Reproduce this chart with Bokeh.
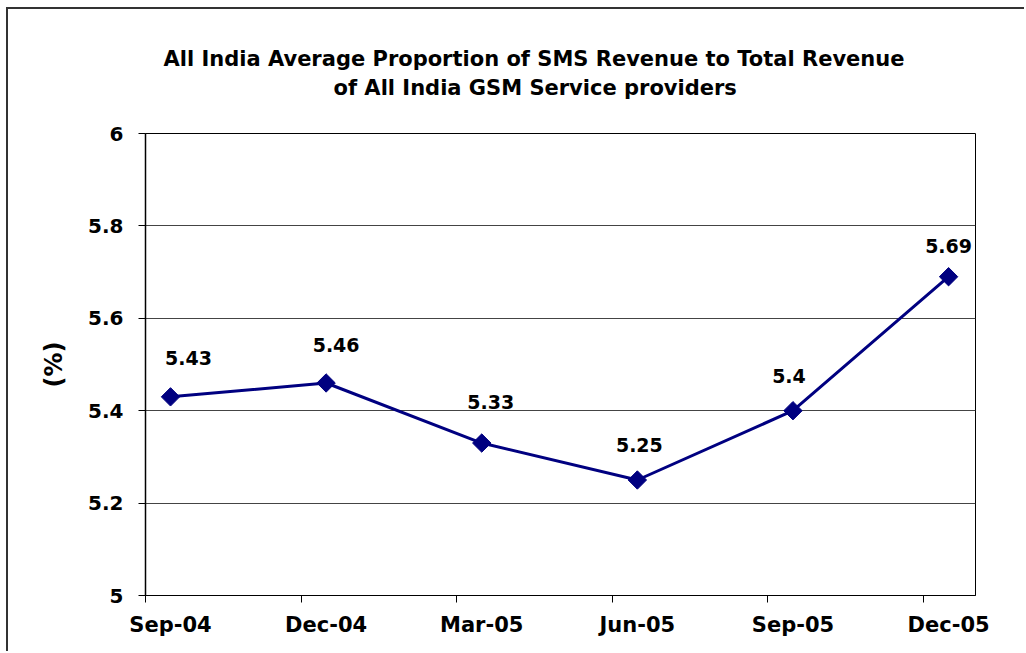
import math
from bokeh.plotting import figure
from bokeh.models import (FixedTicker, LabelSet, Title,
                          ColumnDataSource, CustomJSTickFormatter)
from bokeh.core.properties import value
from bokeh.embed import file_html
from bokeh.resources import INLINE

# ---- data ----
categories = ["Sep-04", "Dec-04", "Mar-05", "Jun-05", "Sep-05", "Dec-05"]
values = [5.43, 5.46, 5.33, 5.25, 5.4, 5.69]
value_labels = ["5.43", "5.46", "5.33", "5.25", "5.4", "5.69"]
y_ticks = [5.0, 5.2, 5.4, 5.6, 5.8, 6.0]
title_lines = ["All India Average Proportion of SMS Revenue to Total Revenue",
               "of All India GSM Service providers"]
y_title = "(%)"

# label nudges in pixels (style only, as placed in the original)
label_dx = [18, 10, 9, 2, -4, 0]
label_dy = [32, 31, 34, 28, 28, 24]

FONT = "DejaVu Sans"
NAVY = "#000080"

xs = list(range(len(categories)))
src = ColumnDataSource(dict(x=xs, y=values, lab=value_labels,
                            dx=label_dx, dy=label_dy))

left_pad = 0.1607
right_pad = 0.173
p = figure(width=1018, height=644,
           x_range=(-left_pad, len(categories) - 1 + right_pad),
           y_range=(y_ticks[0], y_ticks[-1]),
           output_backend="svg", toolbar_location=None,
           title=title_lines[0],
           min_border_left=137, min_border_right=51,
           min_border_top=124, min_border_bottom=58)
p.margin = (7, 0, 0, 6)
p.styles = {"border-left": "2px solid #333333", "border-top": "2px solid #333333"}
p.background_fill_color = "white"
p.border_fill_color = "white"
p.outline_line_color = "black"
p.outline_line_width = 1

title_style = dict(text_font=FONT, text_font_style="bold",
                   text_font_size="21px", text_color="black")

# spacer between plot and title block
p.add_layout(Title(text=" ", align="left", standoff=7, **title_style), "above")
# line 2 (nearer the plot)
p.add_layout(Title(text=title_lines[1], align="left", offset=188, standoff=2,
                   **title_style), "above")
# line 1 (outer, the figure's own title)
p.title.align = "left"
p.title.offset = 18
p.title.standoff = 4
for k, v in title_style.items():
    setattr(p.title, k, v)

# grid
p.xgrid.grid_line_color = None
p.ygrid.grid_line_color = "#444444"
p.ygrid.grid_line_width = 1
p.ygrid.ticker = FixedTicker(ticks=y_ticks)

# x axis
xa = p.xaxis[0]
xa.ticker = FixedTicker(ticks=xs, minor_ticks=[i - left_pad for i in xs])
xa.major_label_overrides = {i: c for i, c in zip(xs, categories)}
xa.major_tick_line_color = None
xa.major_tick_out = 0
xa.major_tick_in = 0
xa.minor_tick_line_color = "black"
xa.minor_tick_out = 7
xa.minor_tick_in = 0
xa.axis_line_color = "black"
xa.major_label_standoff = 10
xa.major_label_text_font = FONT
xa.major_label_text_font_style = "bold"
xa.major_label_text_font_size = "21px"
xa.major_label_text_color = "black"

# y axis
ya = p.yaxis[0]
ya.ticker = FixedTicker(ticks=y_ticks)
ya.formatter = CustomJSTickFormatter(code="return tick.toFixed(1).replace(/\\.0$/, '');")
ya.minor_tick_line_color = None
ya.major_tick_out = 7
ya.major_tick_in = 0
ya.major_tick_line_color = "black"
ya.axis_line_color = "black"
ya.axis_line_width = 1.5
ya.major_label_standoff = 15
ya.major_label_text_font = FONT
ya.major_label_text_font_style = "bold"
ya.major_label_text_font_size = "20px"
ya.major_label_text_color = "black"
ya.axis_label = y_title
ya.axis_label_text_font = FONT
ya.axis_label_text_font_style = "bold"
ya.axis_label_text_font_size = "24px"
ya.axis_label_text_color = "black"
ya.axis_label_standoff = 17

# series
p.line("x", "y", source=src, line_color=NAVY, line_width=3)
p.scatter("x", "y", source=src, marker="square", size=13, angle=math.pi / 4,
          fill_color=NAVY, line_color=NAVY)

labels = LabelSet(x="x", y="y", text="lab", source=src,
                  x_offset="dx", y_offset="dy",
                  text_align="center", text_baseline="alphabetic",
                  text_font=value(FONT), text_font_style="bold",
                  text_font_size="19px", text_color="black")
p.add_layout(labels)

open("out.html", "w").write(file_html(p, INLINE))
